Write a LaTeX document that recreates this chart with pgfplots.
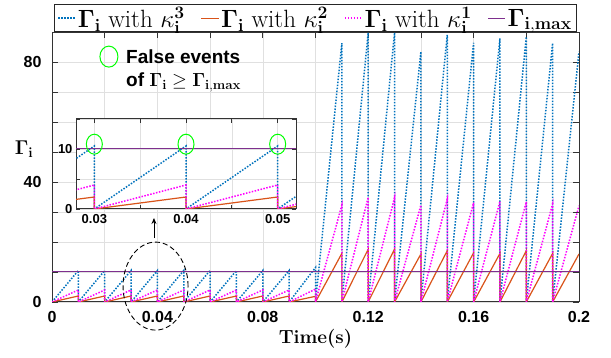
\RequirePackage{fix-cm}
\documentclass[border=0pt]{standalone}
\usepackage[no-math]{fontspec}
\setsansfont{Liberation Sans}
\usepackage{pgfplots}
\usepackage{pgfplotstable}
\pgfplotsset{compat=1.18}
\usetikzlibrary{arrows.meta}
\definecolor{mblue}{rgb}{0,0.447,0.741}
\definecolor{morange}{rgb}{0.85,0.325,0.098}
\definecolor{mpurple}{rgb}{0.494,0.184,0.556}
\definecolor{mmag}{rgb}{1,0,1}
\newcommand{\lbl}[1]{\textsf{\bfseries #1}}

\pgfplotstableread{
t y
0 0
0.01 10.5
0.01 0
0.02 10.5
0.02 0
0.03 10.5
0.03 0
0.04 10.5
0.04 0
0.05 10.5
0.05 0
0.06 10.5
0.06 0
0.07 10.5
0.07 0
0.08 10.5
0.08 0
0.09 10.5
0.09 0
0.1 11.5
0.1 0
0.11 86.3
0.11 0
0.12 89.8
0.12 0
0.13 89.8
0.13 0
0.14 83.4
0.14 0
0.15 89.0
0.15 0
0.16 86.4
0.16 0
0.17 87.9
0.17 0
0.18 88.4
0.18 0
0.19 86.3
0.19 0
0.2 83.4
}\blueT

\pgfplotstableread{
t y
0 0
0.01 2.0
0.01 0
0.02 2.0
0.02 0
0.03 2.0
0.03 0
0.04 2.0
0.04 0
0.05 2.0
0.05 0
0.06 2.0
0.06 0
0.07 2.0
0.07 0
0.08 2.0
0.08 0
0.09 2.0
0.09 0
0.1 1.9
0.1 0
0.11 16.2
0.11 0
0.12 17.6
0.12 0
0.13 17.6
0.13 0
0.14 16.0
0.14 0
0.15 17.1
0.15 0
0.16 16.4
0.16 0
0.17 16.2
0.17 0
0.18 17.1
0.18 0
0.19 16.2
0.19 0
0.2 16.0
}\orangeT

\pgfplotstableread{
t y
0 0
0.01 4.0
0.01 0
0.02 4.0
0.02 0
0.03 4.0
0.03 0
0.04 4.0
0.04 0
0.05 4.0
0.05 0
0.06 4.0
0.06 0
0.07 4.0
0.07 0
0.08 4.0
0.08 0
0.09 4.0
0.09 0
0.1 4.3
0.1 0
0.11 32.3
0.11 0
0.12 34.9
0.12 0
0.13 34.8
0.13 0
0.14 32.3
0.14 0
0.15 34.3
0.15 0
0.16 33.1
0.16 0
0.17 33.6
0.17 0
0.18 33.4
0.18 0
0.19 32.7
0.19 0
0.2 32.1
}\magT

\pgfplotstableread{
t y
0 10
0.2 10
}\maxT

\begin{document}
\begin{tikzpicture}
\path (0,0) rectangle (611pt,358pt);
\begin{axis}[
  at={(52pt,56pt)}, anchor=south west,
  scale only axis, width=527pt, height=270pt,
  xmin=0, xmax=0.2, ymin=0, ymax=90,
  clip mode=individual,
  scaled x ticks=false,
  xtick={0,0.02,0.04,0.06,0.08,0.1,0.12,0.14,0.16,0.18,0.2},
  xticklabels={\lbl{0},,\lbl{0.04},,\lbl{0.08},,\lbl{0.12},,\lbl{0.16},,\lbl{0.2}},
  ytick={0,10,20,30,40,50,60,70,80,90},
  yticklabels={\lbl{0},,,,\lbl{40},,,,\lbl{80},},
  ticklabel style={font=\fontsize{16}{18}\selectfont},
  xticklabel style={yshift=-6pt},
  yticklabel style={xshift=-7pt},
  tick align=inside, tick pos=both, major tick length=6pt,
  tick style={black!80, line width=0.8pt},
  axis line style={black!80, line width=1pt},
  grid=major, grid style={black!12, line width=0.6pt},
  xlabel={\textbf{Time(s)}},
  xlabel style={font=\fontsize{19}{21}\selectfont, at={(axis description cs:0.5,0)}, anchor=center, yshift=-37pt},
  ylabel={$\mathbf{\Gamma_i}$},
  ylabel style={rotate=-90, at={(axis description cs:-0.053,0.568)}, anchor=center, font=\fontsize{20}{22}\selectfont},
  legend columns=4,
  legend cell align=left,
  legend style={at={(0.5,1)}, anchor=south, draw=black!85, line width=0.8pt,
    font=\fontsize{25}{27}\selectfont, inner xsep=3pt, inner ysep=0.5pt,
    /tikz/every even column/.append style={column sep=14pt}},
]
\addplot[mblue, line width=1.5pt, dash pattern=on 1.5pt off 1.5pt] table[x=t,y=y] {\blueT};
\addlegendentry{$\mathbf{\Gamma_i}$ with $\kappa_{\mathbf{i}}^{\mathbf{3}}$}
\addplot[morange, line width=1.2pt] table[x=t,y=y] {\orangeT};
\addlegendentry{$\mathbf{\Gamma_i}$ with $\kappa_{\mathbf{i}}^{\mathbf{2}}$}
\addplot[mmag, line width=1.5pt, dash pattern=on 1.5pt off 1.5pt] table[x=t,y=y] {\magT};
\addlegendentry{$\mathbf{\Gamma_i}$ with $\kappa_{\mathbf{i}}^{\mathbf{1}}$}
\addplot[mpurple, line width=1pt] table[x=t,y=y] {\maxT};
\addlegendentry{$\mathbf{\Gamma_{i,max}}$}
\draw[green, line width=1pt] (axis cs:0.0216,81.8) ellipse [x radius=9pt, y radius=10.5pt];
\node[anchor=west, inner sep=0pt, font=\fontsize{19}{21}\selectfont\sffamily\bfseries] at (axis cs:0.0281,81.7) {False events};
\node[anchor=west, inner sep=0pt, font=\fontsize{19}{21}\selectfont\sffamily\bfseries] at (axis cs:0.0281,73.3) {of $\mathbf{\Gamma_i}\geq\mathbf{\Gamma_{i,max}}$};
\draw[black, line width=0.9pt, dash pattern=on 5pt off 3pt] (axis cs:0.0393,5.3) ellipse [x radius=32.5pt, y radius=44pt];
\draw[black, line width=0.9pt, -{Stealth[length=6pt,width=5pt]}] (axis cs:0.0387,21.3) -- (axis cs:0.0387,28);
\end{axis}
\begin{axis}[
  at={(76pt,149pt)}, anchor=south west,
  scale only axis, width=220pt, height=90pt,
  xmin=0.028, xmax=0.052, ymin=0, ymax=15,
  clip mode=individual,
  scaled x ticks=false,
  axis background/.style={fill=white},
  xtick={0.03,0.035,0.04,0.045,0.05},
  xticklabels={\lbl{0.03},,\lbl{0.04},,\lbl{0.05}},
  ytick={0,5,10,15},
  yticklabels={\lbl{0},,\lbl{10},},
  ticklabel style={font=\fontsize{13}{15}\selectfont},
  xticklabel style={yshift=-2pt},
  tick align=inside, tick pos=both, major tick length=4pt,
  tick style={black!80, line width=0.7pt},
  axis line style={black!80, line width=1pt},
  grid=major, grid style={black!12, line width=0.6pt},
]
\addplot[mblue, line width=1.5pt, dash pattern=on 1.5pt off 1.5pt] table[x=t,y=y] {\blueT};
\addplot[morange, line width=1.2pt] table[x=t,y=y] {\orangeT};
\addplot[mmag, line width=1.5pt, dash pattern=on 1.5pt off 1.5pt] table[x=t,y=y] {\magT};
\addplot[mpurple, line width=1pt] table[x=t,y=y] {\maxT};
\draw[green, line width=1pt] (axis cs:0.03,10.8) ellipse [x radius=8pt, y radius=10pt];
\draw[green, line width=1pt] (axis cs:0.04,10.8) ellipse [x radius=8pt, y radius=10pt];
\draw[green, line width=1pt] (axis cs:0.05,10.8) ellipse [x radius=8pt, y radius=10pt];
\end{axis}
\end{tikzpicture}
\end{document}
